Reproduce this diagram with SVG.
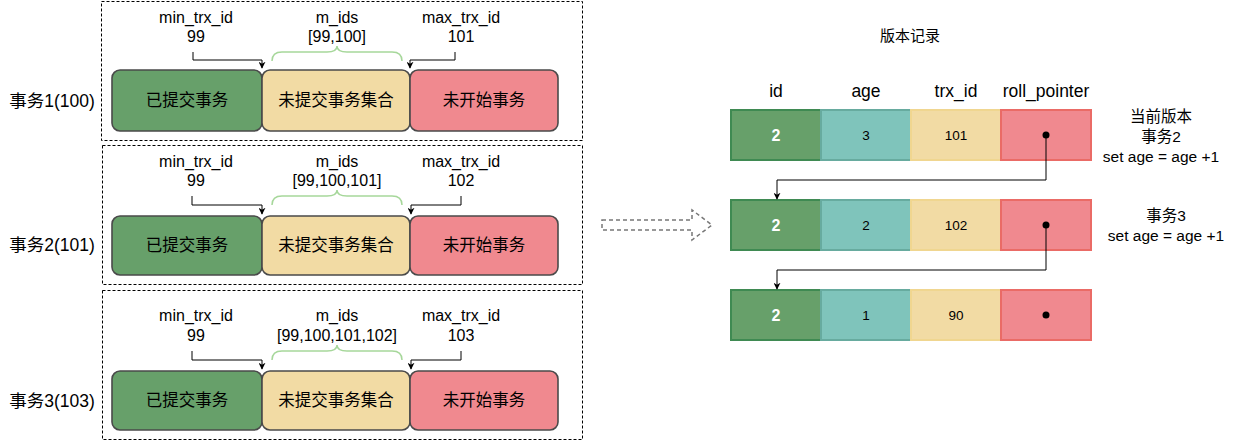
<svg xmlns="http://www.w3.org/2000/svg" width="1237" height="441" viewBox="0 0 1237 441">
<defs>
<marker id="ah" viewBox="0 0 10 10" refX="9" refY="5" markerWidth="7" markerHeight="7" orient="auto" markerUnits="userSpaceOnUse">
<path d="M0,0 L10,5 L0,10 L3,5 Z" fill="#000"/>
</marker>
<style>
text{font-family:"Liberation Sans","Noto Sans CJK SC",sans-serif;fill:#000}
.lbl{font-size:16px;text-anchor:middle}
.side{font-size:17.5px;text-anchor:middle}
.cn{font-size:16.5px;text-anchor:middle}
.note{font-size:15.5px;text-anchor:middle}
.panel{fill:none;stroke:#000;stroke-width:1;stroke-dasharray:3 2}
.bx{stroke:#4a4a4a;stroke-width:1.6}
.g{fill:#67a06a}
.y{fill:#f2dba4}
.r{fill:#f0898f}
.conn{fill:none;stroke:#000;stroke-width:1}
.brace{fill:none;stroke:#a6d79a;stroke-width:1.5}
.cg{fill:#67a06a;stroke:#3f8a52;stroke-width:2}
.ct{fill:#7fc4bb;stroke:#67ab9f;stroke-width:2}
.cy{fill:#f2dba4;stroke:#f0d690;stroke-width:2}
.cr{fill:#f0898f;stroke:#ea6b66;stroke-width:2}
.num{font-size:13.5px;text-anchor:middle}
.w{font-size:16px;font-weight:bold;text-anchor:middle;fill:#fff}
.hd{font-size:17.5px;text-anchor:middle}
.tt{font-size:15px;text-anchor:middle}
</style>
</defs>

<g id="panel1">
<rect class="panel" x="101.5" y="1.5" width="481" height="139"/>
<text class="side" x="52" y="107">事务1(100)</text>
<text class="lbl" x="196" y="23">min_trx_id</text>
<text class="lbl" x="196" y="42">99</text>
<text class="lbl" x="337" y="23">m_ids</text>
<text class="lbl" x="337" y="42">[99,100]</text>
<text class="lbl" x="461" y="23">max_trx_id</text>
<text class="lbl" x="461" y="42">101</text>
<rect class="bx g" x="112" y="70" width="150" height="61" rx="8"/>
<rect class="bx y" x="262" y="70" width="148" height="61" rx="8"/>
<rect class="bx r" x="410" y="70" width="148" height="61" rx="8"/>
<text class="cn" x="187" y="106">已提交事务</text>
<text class="cn" x="336" y="106">未提交事务集合</text>
<text class="cn" x="484" y="106">未开始事务</text>
<path class="brace" d="M272,61 Q272,52 282,52 L327,52 Q337,52 337,46 Q337,52 347,52 L392,52 Q402,52 402,61"/>
</g>

<g id="panel2">
<rect class="panel" x="102.5" y="145.5" width="480" height="139"/>
<text class="side" x="52" y="251">事务2(101)</text>
<text class="lbl" x="196" y="167">min_trx_id</text>
<text class="lbl" x="196" y="186">99</text>
<text class="lbl" x="337" y="167">m_ids</text>
<text class="lbl" x="337" y="186">[99,100,101]</text>
<text class="lbl" x="461" y="167">max_trx_id</text>
<text class="lbl" x="461" y="186">102</text>
<rect class="bx g" x="112" y="216" width="150" height="59" rx="8"/>
<rect class="bx y" x="262" y="216" width="148" height="59" rx="8"/>
<rect class="bx r" x="410" y="216" width="148" height="59" rx="8"/>
<text class="cn" x="187" y="251">已提交事务</text>
<text class="cn" x="336" y="251">未提交事务集合</text>
<text class="cn" x="484" y="251">未开始事务</text>
<path class="brace" d="M272,205 Q272,196 282,196 L327,196 Q337,196 337,190 Q337,196 347,196 L392,196 Q402,196 402,205"/>
</g>

<g id="panel3">
<rect class="panel" x="102.5" y="290.5" width="480" height="149"/>
<text class="side" x="52" y="407">事务3(103)</text>
<text class="lbl" x="196" y="321">min_trx_id</text>
<text class="lbl" x="196" y="341">99</text>
<text class="lbl" x="337" y="321">m_ids</text>
<text class="lbl" x="337" y="341">[99,100,101,102]</text>
<text class="lbl" x="461" y="321">max_trx_id</text>
<text class="lbl" x="461" y="341">103</text>
<rect class="bx g" x="112" y="371" width="150" height="59" rx="8"/>
<rect class="bx y" x="262" y="371" width="148" height="59" rx="8"/>
<rect class="bx r" x="410" y="371" width="148" height="59" rx="8"/>
<text class="cn" x="187" y="406">已提交事务</text>
<text class="cn" x="336" y="406">未提交事务集合</text>
<text class="cn" x="484" y="406">未开始事务</text>
<path class="brace" d="M272,360 Q272,351 282,351 L327,351 Q337,351 337,345 Q337,351 347,351 L392,351 Q402,351 402,360"/>
</g>

<g id="bigArrow">
<path d="M602,220 L692,220 L692,210 L712,225 L692,240 L692,230 L602,230 Z" fill="none" stroke="#777" stroke-width="1.5" stroke-dasharray="4 3"/>
</g>

<g id="title">
<text class="tt" x="910" y="41">版本记录</text>
<text class="hd" x="776" y="97">id</text>
<text class="hd" x="866" y="97">age</text>
<text class="hd" x="956" y="97">trx_id</text>
<text class="hd" x="1046" y="97">roll_pointer</text>
</g>

<g id="row1">
<rect class="cg" x="731" y="110" width="90" height="50"/>
<rect class="ct" x="821" y="110" width="90" height="50"/>
<rect class="cy" x="911" y="110" width="90" height="50"/>
<rect class="cr" x="1001" y="110" width="90" height="50"/>
<text class="w" x="776" y="141">2</text>
<text class="num" x="866" y="140">3</text>
<text class="num" x="956" y="140">101</text>
<circle cx="1046" cy="135" r="3.5" fill="#000"/>
</g>

<g id="row2">
<rect class="cg" x="731" y="200" width="90" height="50"/>
<rect class="ct" x="821" y="200" width="90" height="50"/>
<rect class="cy" x="911" y="200" width="90" height="50"/>
<rect class="cr" x="1001" y="200" width="90" height="50"/>
<text class="w" x="776" y="231">2</text>
<text class="num" x="866" y="230">2</text>
<text class="num" x="956" y="230">102</text>
<circle cx="1046" cy="225" r="3.5" fill="#000"/>
</g>

<g id="row3">
<rect class="cg" x="731" y="290" width="90" height="50"/>
<rect class="ct" x="821" y="290" width="90" height="50"/>
<rect class="cy" x="911" y="290" width="90" height="50"/>
<rect class="cr" x="1001" y="290" width="90" height="50"/>
<text class="w" x="776" y="321">2</text>
<text class="num" x="866" y="320">1</text>
<text class="num" x="956" y="320">90</text>
<circle cx="1046" cy="315" r="3.5" fill="#000"/>
</g>

<g id="notes">
<text class="note" x="1161" y="122">当前版本</text>
<text class="note" x="1161" y="142">事务2</text>
<text class="note" x="1161" y="162">set age = age +1</text>
<text class="note" x="1166" y="221">事务3</text>
<text class="note" x="1166" y="241">set age = age +1</text>
</g>

<g id="connectors">
<path class="conn" d="M193,52 L193,60 L262,60 L262,68" marker-end="url(#ah)"/>
<path class="conn" d="M455,52 L455,60 L410,60 L410,68" marker-end="url(#ah)"/>
<path class="conn" d="M192,196 L192,205 L262,205 L262,214" marker-end="url(#ah)"/>
<path class="conn" d="M461,196 L461,205 L411,205 L411,214" marker-end="url(#ah)"/>
<path class="conn" d="M192,351 L192,360 L262,360 L262,369" marker-end="url(#ah)"/>
<path class="conn" d="M461,351 L461,360 L411,360 L411,369" marker-end="url(#ah)"/>
<path class="conn" d="M1046,135 L1046,180 L777,180 L777,199" marker-end="url(#ah)"/>
<path class="conn" d="M1046,225 L1046,270 L777,270 L777,289" marker-end="url(#ah)"/>
</g>
</svg>
